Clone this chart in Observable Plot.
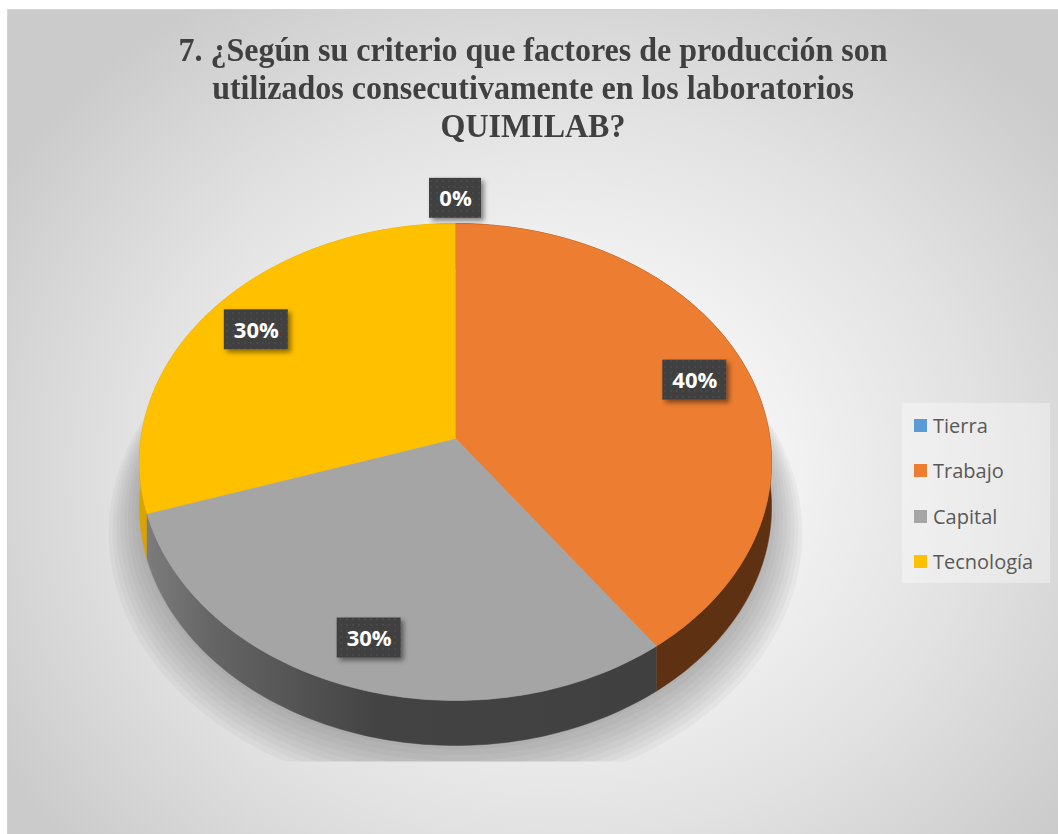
<!DOCTYPE html>
<html><head><meta charset="utf-8">
<script src="https://cdn.jsdelivr.net/npm/d3@7"></script>
<script src="https://cdn.jsdelivr.net/npm/@observablehq/plot@0.6"></script>
<style>
body{margin:0;background:#fff;}
#chart{position:absolute;left:7px;top:9px;width:1051px;height:825px;border-top:1px solid #d4d4d4;border-left:1px solid #d4d4d4;box-sizing:border-box;overflow:hidden;
background:radial-gradient(ellipse 62% 68% at 52% 56%, #ffffff 0%, #f5f5f5 30%, #e2e2e2 65%, #cbcbcb 100%);}
#title{font-family:"Liberation Serif","Times New Roman",serif;font-weight:bold;font-size:32px;line-height:38px;color:#404040;text-align:center;padding-top:20px;height:150px;box-sizing:border-box;}
#title span{display:inline-block;transform:scaleY(1.08);}
#legend{position:absolute;left:894px;top:393px;width:148px;height:180px;background:rgba(255,255,255,0.35);font-family:"Open Sans",sans-serif;font-size:20px;color:#595959;}
#legend .row{height:45.3px;display:flex;align-items:center;padding-left:12px;}
#legend .sw{width:13px;height:13px;margin-right:6px;}
#plot svg{display:block;}
</style>
</head><body>
<div id="chart">
  <div id="title"><span>7. ¿Según su criterio que factores de producción son</span><br><span>utilizados consecutivamente en los laboratorios</span><br><span>QUIMILAB?</span></div>
  <div id="plot"></div>
  <div id="legend"></div>
</div>
<script>
const categories = ["Tierra", "Trabajo", "Capital", "Tecnología"];
const values = [0, 40, 30, 30];
const labels = ["0%", "40%", "30%", "30%"];
const topColors = ["#5B9BD5", "#ED7D31", "#A5A5A5", "#FFC000"];
const sideColors = ["#2E5F8A", "#5E3113", "url(#grayWall)", "#D9A300"];

// geometry (layout)
const W = 1050, H = 674;
const U = 314.5;                // px per unit (horizontal radius)
const CX = 447, CY = 278;       // pie centre in svg px
const K = -0.0985, B = 0.751, D = 45 / U;

function proj(r, t) {
  const a = t * Math.PI / 180;
  const X = r * Math.sin(a), Y = -r * Math.cos(a);
  const w = 1 + K * Y;
  return [X / w, B * Y / w];
}

const total = d3.sum(values);
let acc = 0;
const slices = values.map((v, i) => {
  const t0 = acc / total * 360; acc += v; const t1 = acc / total * 360;
  return {i, t0, t1, v};
});

function arc(r, t0, t1, dy = 0) {
  const pts = [];
  const n = Math.max(1, Math.ceil(Math.abs(t1 - t0)));
  for (let k = 0; k <= n; k++) {
    const t = t0 + (t1 - t0) * k / n;
    const [x, y] = proj(r, t);
    pts.push([x, y + dy]);
  }
  return pts;
}

// soft shadow: stacked translucent layers, flat-cut at the bottom
const shadowFloor = (0.833 * U + D * U + 16) / U;
const shadowRows = [];
for (let j = 0; j < 9; j++) {
  arc(1.0 + 0.012 * j, 0, 360, D + (4 + 2.2 * j) / U)
    .forEach(([x, y]) => shadowRows.push({x, y: Math.min(y, shadowFloor), layer: j}));
}

// walls (back first)
const wallRows = [];
slices.filter(s => s.v > 0)
  .sort((a, b) => proj(1, (a.t0 + a.t1) / 2)[1] - proj(1, (b.t0 + b.t1) / 2)[1])
  .forEach(s => {
    const top = arc(1, s.t0, s.t1, 0);
    const bot = arc(1, s.t1, s.t0, D);
    [...top, ...bot].forEach(([x, y]) => wallRows.push({x, y, slice: s.i, fill: sideColors[s.i]}));
  });

// top faces
const topRows = [];
slices.filter(s => s.v > 0).forEach(s => {
  const pts = [[0, 0], ...arc(1, s.t0, s.t1, 0)];
  pts.forEach(([x, y]) => topRows.push({x, y, slice: s.i, fill: topColors[s.i]}));
});

// labels
const labelRows = slices.map(s => {
  const r = s.v > 0 ? 0.82 : 1.13;
  const [x, y] = proj(r, (s.t0 + s.t1) / 2);
  const hw = (labels[s.i].length * 12 + 28) / 2 / U;
  const hh = 20 / U;
  return {x, y, x1: x - hw, x2: x + hw, y1: y - hh, y2: y + hh, text: labels[s.i]};
});

const svg = Plot.plot({
  width: W, height: H,
  margin: 0,
  style: {background: "transparent", overflow: "visible"},
  x: {domain: [-CX / U, (W - CX) / U], range: [0, W], axis: null},
  y: {domain: [-CY / U, (H - CY) / U], range: [0, H], axis: null},
  color: {type: "identity"},
  marks: [
    Plot.line(shadowRows, {x: "x", y: "y", z: "layer", fill: "#6e6e6e", fillOpacity: 0.06, stroke: "none"}),
    Plot.line(wallRows, {x: "x", y: "y", z: "slice", fill: "fill", stroke: "fill", strokeWidth: 0.5}),
    Plot.line(topRows, {x: "x", y: "y", z: "slice", fill: "fill", stroke: "fill", strokeWidth: 0.5}),
    Plot.rect(labelRows, {x1: "x1", x2: "x2", y1: "y1", y2: "y2", fill: "url(#dots)"}),
    Plot.text(labelRows, {x: "x", y: "y", text: "text", fill: "white", fontSize: 22, fontWeight: "bold", fontFamily: "Open Sans", dy: 1})
  ]
});

const ns = "http://www.w3.org/2000/svg";
const defs = document.createElementNS(ns, "defs");
defs.innerHTML = `
<linearGradient id="grayWall" x1="0" x2="1" y1="0" y2="0">
  <stop offset="0" stop-color="#7c7c7c"/><stop offset="0.12" stop-color="#666"/>
  <stop offset="0.45" stop-color="#434343"/><stop offset="1" stop-color="#404040"/>
</linearGradient>
<pattern id="dots" width="6" height="6" patternUnits="userSpaceOnUse">
  <rect width="6" height="6" fill="#404040"/><circle cx="3" cy="3" r="0.9" fill="#4e4e4e"/>
</pattern>
<filter id="ds" x="-20%" y="-20%" width="150%" height="160%">
  <feDropShadow dx="3" dy="3" stdDeviation="2.5" flood-color="#000" flood-opacity="0.45"/>
</filter>`;
svg.insertBefore(defs, svg.firstChild);
const marksG = Array.from(svg.querySelectorAll(':scope > g'));
if (marksG[3]) marksG[3].setAttribute("filter", "url(#ds)");
document.getElementById("plot").appendChild(svg);

const legend = document.getElementById("legend");
categories.forEach((c, i) => {
  const row = document.createElement("div");
  row.className = "row";
  row.innerHTML = `<span class="sw" style="background:${topColors[i]}"></span><span>${c}</span>`;
  legend.appendChild(row);
});
</script>
</body></html>
